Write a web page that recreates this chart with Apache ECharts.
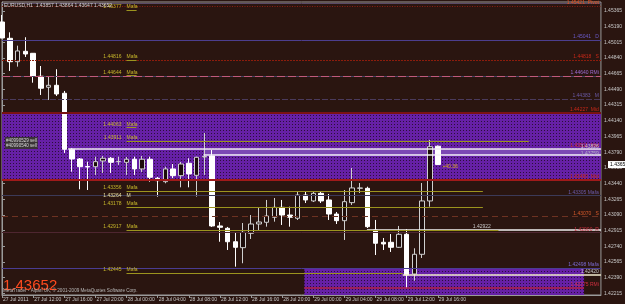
<!DOCTYPE html>
<html><head><meta charset="utf-8">
<script src="https://cdn.jsdelivr.net/npm/echarts@6/dist/echarts.min.js"></script>
<style>html,body{margin:0;padding:0;background:#2a1510;overflow:hidden}#c{width:625px;height:304px}</style>
</head><body><div id="c"></div>
<script>
// ---- data ----
const timeLabels = ['27 Jul 2011','27 Jul 12:00','27 Jul 16:00','27 Jul 20:00','28 Jul 00:00','28 Jul 04:00','28 Jul 08:00','28 Jul 12:00','28 Jul 16:00','28 Jul 20:00','29 Jul 00:00','29 Jul 04:00','29 Jul 08:00','29 Jul 12:00','29 Jul 16:00'];
const labelBars = [0,4,8,12,16,20,24,28,32,36,40,44,48,52,56];
const barIndex = [0,1,2,3,4,5,6,7,8,9,10,11,12,13,14,15,16,17,18,19,20,21,22,23,24,25,26,27,28,29,30,31,32,33,34,35,36,37,38,39,40,41,42,43,44,45,46,47,48,49,50,51,52,53,54,55,56];
const opens  = [1.45242,1.45060,1.44799,1.44915,1.44893,1.44637,1.44514,1.44536,1.44447,1.43822,1.43714,1.43630,1.43628,1.43692,1.43722,1.43684,1.43677,1.43711,1.43603,1.43711,1.43499,1.43461,1.43603,1.43528,1.43666,1.43532,1.43736,1.43748,1.42967,1.42941,1.42791,1.42725,1.42885,1.42989,1.43008,1.43064,1.43175,1.43089,1.43053,1.43312,1.43246,1.43331,1.43257,1.43100,1.43026,1.43227,1.43387,1.43387,1.42922,1.42785,1.42785,1.42729,1.42874,1.42431,1.42651,1.43246,1.43857];
const closes = [1.45064,1.44799,1.44919,1.44885,1.44637,1.44503,1.44536,1.44439,1.43822,1.43714,1.43628,1.43625,1.43684,1.43722,1.43677,1.43686,1.43711,1.43603,1.43711,1.43510,1.43472,1.43603,1.43528,1.43658,1.43547,1.43733,1.43742,1.42967,1.42952,1.42791,1.42729,1.42896,1.42989,1.43011,1.43078,1.43175,1.43089,1.43064,1.43312,1.43257,1.43331,1.43246,1.43100,1.43026,1.43238,1.43391,1.43391,1.42959,1.42774,1.42766,1.42729,1.42874,1.42420,1.42651,1.43246,1.43851,1.43652];
const lows   = [1.45060,1.44696,1.44744,1.44852,1.44565,1.44428,1.44372,1.44417,1.43781,1.43572,1.43376,1.43368,1.43536,1.43558,1.43558,1.43647,1.43536,1.43536,1.43569,1.43461,1.43294,1.43443,1.43499,1.43398,1.43398,1.43294,1.43536,1.42956,1.42791,1.42699,1.42513,1.42551,1.42822,1.42922,1.42959,1.43015,1.42978,1.42959,1.43034,1.43223,1.43234,1.43223,1.43034,1.42989,1.42811,1.43201,1.43335,1.42944,1.42643,1.42699,1.42677,1.42721,1.42272,1.42356,1.42610,1.43182,1.43647];
const highs  = [1.45320,1.45127,1.44978,1.45072,1.44896,1.44751,1.44632,1.44715,1.44473,1.43837,1.43725,1.43684,1.43740,1.43748,1.43736,1.43740,1.43736,1.43740,1.43748,1.43740,1.43513,1.43628,1.43658,1.43681,1.43722,1.43740,1.44004,1.43814,1.43011,1.42956,1.42889,1.43000,1.43089,1.43175,1.43257,1.43279,1.43257,1.43182,1.43346,1.43349,1.43349,1.43349,1.43324,1.43123,1.43368,1.43614,1.43446,1.43405,1.43034,1.42833,1.42877,1.42967,1.42933,1.42718,1.43446,1.43926,1.43864];
const priceTicks = [1.42215,1.42390,1.42565,1.42740,1.42915,1.43090,1.43265,1.43440,1.43615,1.43790,1.43965,1.44140,1.44315,1.44490,1.44665,1.44840,1.45015,1.45190,1.45365];
const bidPrice = 1.43652;
// "Mafa" levels: value, bar where its line ends
const mafaLevels = [1.45377,1.44816,1.44644,1.44063,1.43911,1.43356,1.43178,1.42917,1.42445];
const mafaLineEnd = [17.3,17.3,17.3,17.3,67.7,61.8,61.8,63.8,51.5];
// other horizontal objects
const levelTopGrey = 1.45449, levelRedDot = 1.45421, levelBlue1 = 1.45041, levelRedDash = 1.44818, levelPink = 1.44640, levelGreyDash = 1.44383;
const zone1 = [1.44227, 1.43480];
const orderLines = [1.43826, 1.43759];
const orderLineStart = [8.5, 25.9];
const levelGreyBlue = 1.43305, levelBrownDash = 1.43070, levelWhite2 = 1.42922, levelMaroon = 1.42900, levelBlue2 = 1.42498, levelRed2 = 1.42275, levelCream = 1.42420;
const zone2Start = 38.85, zone2End = 74.8;

const chart = echarts.init(document.getElementById('c'), null, {renderer:'canvas'});
const YMIN = 1.42197, YMAX = 1.45465, XMAX = 76.97;

// dotted purple pattern
const pc = document.createElement('canvas'); pc.width = 3; pc.height = 3;
const g = pc.getContext('2d'); g.fillStyle = '#6620a6'; g.fillRect(0,0,3,3); g.fillStyle = '#2c0f3a'; g.fillRect(1,1,1,1);
const purple = {image: pc, repeat: 'repeat'};

function full(p, color, type, width) { return [{coord:[0,p]},{coord:[XMAX,p], lineStyle:{color, type: type||'solid', width: width||1}}]; }
function seg(k1,k2,p,color,type,width) { return [{coord:[k1,p]},{coord:[k2,p], lineStyle:{color, type: type||'solid', width: width||1}}]; }

const olive = '#9c941e';
const lineData = [
  full(levelTopGrey,'#5a4a66'),
  full(levelRedDot,'#8a1c10',[1,1.5]),
  full(levelBlue1,'#4c3e8e'),
  full(levelRedDash,'#8c1c0c',[2,1]),
  full(levelPink,'#42425e'),
  full(levelPink,'#c05a7c',[8,3]),
  full(levelGreyDash,'#4a3a5c',[6,2]),
  full(zone1[0],'#7a1212',null,2),
  full(zone1[1],'#a01a1a',null,2),
  seg(orderLineStart[0], XMAX, orderLines[0], '#f0e8f4', 'solid', 1.5),
  seg(orderLineStart[1], XMAX, orderLines[1], '#f4f0f8', 'solid', 1.5),
  full(levelGreyBlue,'#3c3a58'),
  full(levelBrownDash,'#6e3222',[6,4]),
  seg(46.9, XMAX, levelWhite2, '#f0f0f0', 'solid', 1.5),
  full(levelMaroon,'#4e2630'),
  full(levelBlue2,'#4a3c92'),
  seg(zone2Start, zone2End, levelRed2, '#b02040', 'solid', 1.5),
  seg(51.5, XMAX, levelCream, '#f4eed0', 'solid', 1.5)
];
mafaLevels.forEach((p,i)=>{ lineData.push(seg(16, mafaLineEnd[i], p, olive)); });

const option = {
  backgroundColor: '#2a1510',
  animation: false,
  grid: {left: 1.25, right: 18, top: 2, bottom: 9, show: true, borderColor: '#9a9a9a', borderWidth: 1, backgroundColor: 'transparent'},
  xAxis: {type:'value', min:0, max:XMAX, splitLine:{show:false},
    axisLine:{show:true, lineStyle:{color:'#9a9a9a'}},
    axisTick:{show:true, customValues: labelBars, length:3, lineStyle:{color:'#9a9a9a'}},
    axisLabel:{customValues: labelBars, formatter: v => timeLabels[labelBars.indexOf(v)] || '', color:'#c8c8c8', fontSize:5, fontFamily:'Liberation Sans', align:'left', margin:2, padding:[0,0,0,1]}},
  yAxis: {type:'value', position:'right', min:YMIN, max:YMAX, scale:true, splitLine:{show:false},
    axisLine:{show:true, lineStyle:{color:'#9a9a9a'}},
    axisTick:{show:true, customValues: priceTicks, length:3, lineStyle:{color:'#9a9a9a'}},
    axisLabel:{customValues: priceTicks, formatter: v => v.toFixed(5), color:'#c8c8c8', fontSize:5, fontFamily:'Liberation Sans', margin:3}},
  series: [
    {type:'line', data:[], z:1, silent:true,
     markArea:{silent:true, itemStyle:{color: purple}, data:[
       [{coord:[0, zone1[0]]},{coord:[XMAX, zone1[1]]}],
       [{coord:[zone2Start, levelBlue2]},{coord:[zone2End, YMIN]}],
       [{coord:[orderLineStart[1], orderLines[0]], itemStyle:{color:'#7c48b4'}},{coord:[XMAX, orderLines[1]]}]
     ]}},
    {type:'line', data:[], z:2, silent:true,
     markLine:{silent:true, symbol:['none','none'], label:{show:false}, lineStyle:{width:1}, data: lineData}},
    {type:'candlestick', z:3, barWidth:5, clip:false,
     encode:{x:0, y:[1,2,3,4]},
     itemStyle:{color:'#1c0c0a', color0:'#ffffff', borderColor:'#cfcfcf', borderColor0:'#ffffff', borderWidth:1},
     data: barIndex.map((k,i)=>[k, opens[i], closes[i], lows[i], highs[i]])}
  ]
};
chart.setOption(option);

// ---- text annotations placed through the chart's scales ----
const F = 'Liberation Sans, Arial, sans-serif';
const P = (k,p) => chart.convertToPixel({xAxisIndex:0, yAxisIndex:0}, [k,p]);
const gfx = [];
function T(k,p,text,fill,opt){ const [x,y]=P(k,p); gfx.push({type:'text', x, y, z:50, silent:true, style:Object.assign({text, fill, font:'5px '+F, align:'left', verticalAlign:'bottom'}, opt||{})}); }
mafaLevels.forEach(p=>{ T(15.35,p+0.0001,p.toFixed(5),'#c8b82a',{align:'right'}); T(16,p+0.0001,'Mafa','#c8b82a'); });
T(15.35,1.43264+0.0001,'1.43264','#e8e0a0',{align:'right'}); T(16,1.43264+0.0001,'M','#e8e0a0');
T(56.6,1.43630,'+40.36','#d8a828',{verticalAlign:'middle'});
// right-side object labels
const RK = 76.7;
T(RK,levelRedDot+0.00005,'1.45421  Pivot','#e8501e',{align:'right'});
T(RK,levelBlue1+0.00005,'1.45041   D','#6a5ac8',{align:'right'});
T(RK,levelRedDash+0.00005,'1.44818   S','#c82818',{align:'right'});
T(RK,levelPink+0.00005,'1.44640 RMi','#9a6ad0',{align:'right'});
T(RK,levelGreyDash+0.00005,'1.44383   M','#6a5aa8',{align:'right'});
T(RK,zone1[0]+0.00005,'1.44227  Mid','#c82818',{align:'right'});
T(RK,orderLines[0]+0.00010,'1.43911  Mid','#d03030',{align:'right'});
T(RK,orderLines[0]-0.00002,'1.43826','#c8c0d0',{align:'right'});
T(RK,orderLines[1]-0.00012,'1.43759','#b8b0c8',{align:'right'});
T(RK,zone1[1]+0.00008,'1.43480  Mid','#c82818',{align:'right'});
T(RK,levelGreyBlue+0.00005,'1.43305 Mafa','#6a5aa8',{align:'right'});
T(RK,levelBrownDash+0.00005,'1.43070   S','#d85a2a',{align:'right'});
T(60.5,levelWhite2+0.00005,'1.42922','#c8c8c8',{align:'left'});
T(RK,levelMaroon+0.00003,'1.42900  R','#c83040',{align:'right'});
T(RK,levelBlue2+0.00005,'1.42498 Mafa','#7a6ad0',{align:'right'});
T(RK,levelCream+0.00006,'1.42420','#c8c8c8',{align:'right'});
T(RK,levelRed2+0.00005,'1.42275 RMi','#d03040',{align:'right'});
// bid box on axis
const by = P(0,bidPrice)[1];
gfx.push({type:'text', x:608, y:by, z:60, silent:true, style:{text:bidPrice.toFixed(5), fill:'#000', backgroundColor:'#ffffff', padding:[1,2,1,2], font:'5px '+F, verticalAlign:'middle'}});
// order labels
const o1 = P(0.4, orderLines[0]+0.00055), o2 = P(0.4, orderLines[0]);
gfx.push({type:'text', x:o1[0], y:o1[1], z:60, silent:true, style:{text:'#40990529 sell', fill:'#d8d8d8', backgroundColor:'#3a3436', padding:[1,1], font:'4.5px '+F, verticalAlign:'bottom'}});
gfx.push({type:'text', x:o2[0], y:o2[1], z:60, silent:true, style:{text:'#40990540 sell', fill:'#d8d8d8', backgroundColor:'#3a3436', padding:[1,1], font:'4.5px '+F, verticalAlign:'bottom'}});
// chart chrome texts
gfx.push({type:'text', left:4, top:3, z:60, silent:true, style:{text:'EURUSD,H1  1.43857 1.43864 1.43647 1.43652', fill:'#d0d0d0', font:'5px '+F}});
gfx.push({type:'text', left:3, top:278.5, z:60, silent:true, style:{text:'1.43652', fill:'#ff4a1e', font:'15px '+F}});
gfx.push({type:'text', left:3, top:288.5, z:60, silent:true, style:{text:'MetaTrader - Alpari UK, © 2001-2009 MetaQuotes Software Corp.', fill:'#b8b8b8', font:'4.6px '+F}});
chart.setOption({graphic: gfx});
</script></body></html>
